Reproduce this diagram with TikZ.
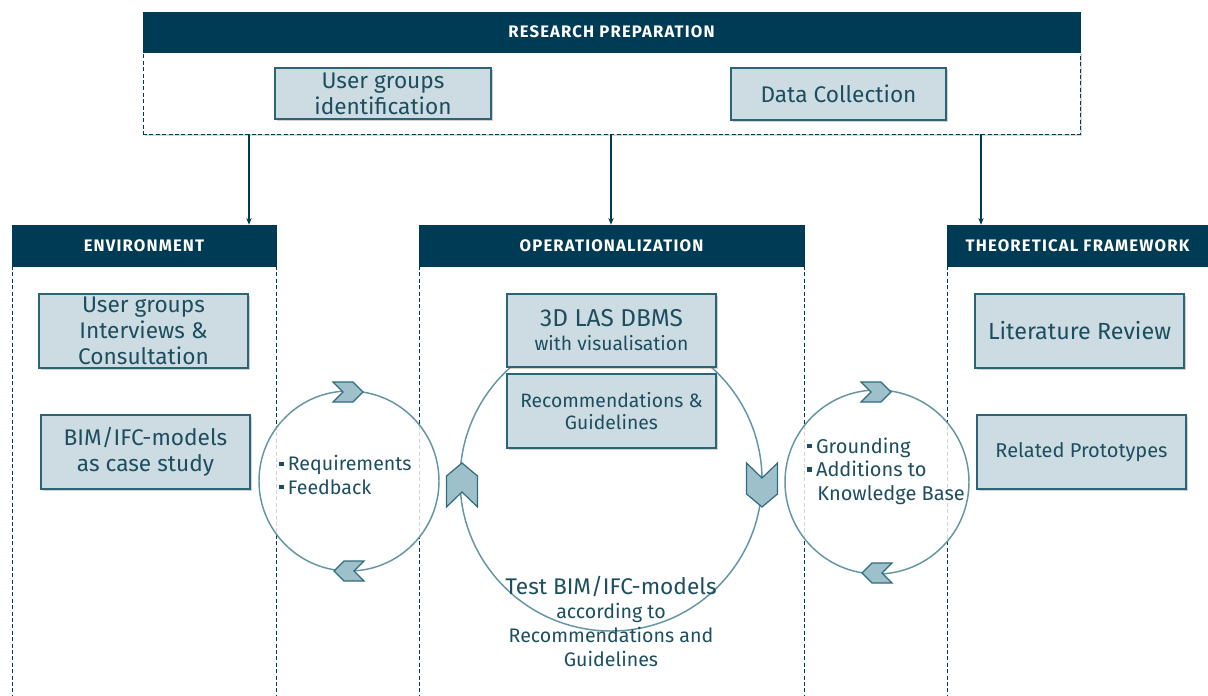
\documentclass[tikz,border=0pt]{standalone}
\usepackage{fontspec}
\setmainfont{Fira Sans}
\newfontfamily\hdrfont{Fira Sans}[LetterSpace=7]
\usetikzlibrary{shadows,arrows.meta}
\definecolor{navy}{HTML}{003B55}
\definecolor{boxfill}{HTML}{CDDCE3}
\definecolor{boxline}{HTML}{2C6375}
\definecolor{txt}{HTML}{1D4E60}
\definecolor{ring}{HTML}{6495A5}
\definecolor{chevfill}{HTML}{9DC0CB}
\definecolor{chevline}{HTML}{2F6C7D}
\newcommand\mybul{\rule[0.25em]{0.22em}{0.22em}\hspace{0.22em}}
\newcommand\fz[2]{\fontsize{#1}{#2}\selectfont}
\begin{document}
\begin{tikzpicture}[x=0.75pt,y=-0.75pt,
  hdr/.style={fill=navy,draw=navy,text=white,font=\hdrfont\bfseries\fz{12.5}{14},inner sep=0pt},
  sbox/.style={fill=boxfill,draw=boxline,line width=0.9pt,text=txt,align=center,inner sep=0pt,
    minimum width=156.75pt,minimum height=55.5pt,
    drop shadow={shadow xshift=1.2pt,shadow yshift=-1.5pt,opacity=0.35}},
  col/.style={draw=navy,line width=0.6pt,dash pattern=on 3pt off 1.8pt},
  arr/.style={draw=navy,line width=0.8pt,-{Stealth[length=5pt,width=4pt]}},
  ring/.style={draw=ring,line width=1.1pt,fill=white,fill opacity=0.8},
  chev/.style={fill=chevfill,draw=chevline,line width=0.9pt,line join=miter},
  ctext/.style={text=txt,align=left,inner sep=0pt},
  chevR/.pic={\draw[chev] (-15,-10) -- (5,-10) -- (15,0) -- (5,10) -- (-15,10) -- (-5,0) -- cycle;},
  chevL/.pic={\draw[chev] (15,-10) -- (-5,-10) -- (-15,0) -- (-5,10) -- (15,10) -- (5,0) -- cycle;},
  chevU/.pic={\draw[chev] (-15.5,22) -- (-15.5,-9) -- (0,-22) -- (15.5,-9) -- (15.5,22) -- (0,7) -- cycle;},
  chevD/.pic={\draw[chev] (-15.5,-22) -- (-15.5,9) -- (0,22) -- (15.5,9) -- (15.5,-22) -- (0,-7) -- cycle;}
]
\path[use as bounding box,fill=white] (0,0) rectangle (1208,696);

% research preparation
\node[draw=navy,line width=0.6pt,dash pattern=on 3pt off 1.8pt,fill=white,minimum width=702.75pt,minimum height=61.5pt,inner sep=0pt,
  drop shadow={shadow xshift=1.2pt,shadow yshift=-1.5pt,opacity=0.3}] (rpbody) at (611.5,93) {};
\node[hdr,minimum width=702.75pt,minimum height=30pt] (rphead) at (611.5,32) {RESEARCH PREPARATION};
\node[sbox,minimum width=162pt,minimum height=38.25pt,font=\fz{17}{19.5}] (ugi) at (383,93.5) {User groups\\identification};
\node[sbox,minimum width=161.25pt,minimum height=39pt,font=\fz{17}{19.5}] (dc) at (838.5,94) {Data Collection};

% columns
\draw[col] (12,266) -- (12,696) (276,266) -- (276,696);
\draw[col] (419,266) -- (419,696) (804,266) -- (804,696);
\draw[col] (947,266) -- (947,696);
\node[hdr,minimum width=198pt,minimum height=30.75pt] (envhead) at (144,245.5) {ENVIRONMENT};
\node[hdr,minimum width=288.75pt,minimum height=30.75pt] (ophead) at (611.5,245.5) {OPERATIONALIZATION};
\node[hdr,minimum width=195.75pt,minimum height=30.75pt] (theohead) at (1077.5,245.5) {THEORETICAL FRAMEWORK};

% arrows
\coordinate (a1) at (249,134);
\coordinate (a2) at (611,134);
\coordinate (a3) at (981,134);
\draw[arr] (a1) -- (a1 |- envhead.north);
\draw[arr] (a2) -- (a2 |- ophead.north);
\draw[arr] (a3) -- (a3 |- theohead.north);

% circles
\node[ring,circle,minimum size=135pt,inner sep=0pt] (lc) at (349,481) {};
\node[ring,circle,minimum size=226.5pt,inner sep=0pt] (mc) at (611,480) {};
\node[ring,circle,minimum size=138pt,inner sep=0pt] (rc) at (877,482) {};

\pic at (348,392) {chevR};
\pic at (349,571) {chevL};
\pic at (462,485) {chevU};
\pic at (762,485) {chevD};
\pic at (876,392) {chevR};
\pic at (877,573) {chevL};

% environment boxes
\node[sbox,font=\fz{17}{19.5}] (ugic) at (143.5,331) {User groups\\Interviews \&\\Consultation};
\node[sbox,font=\fz{17}{19.5}] (bim) at (145.5,452) {BIM/IFC-models\\as case study};

% operationalization boxes
\node[sbox,minimum height=54.75pt,font=\fz{14.5}{18}] (las) at (611.5,330.5) {\fz{18.3}{18}3D LAS DBMS\\\fz{14.5}{18}with visualisation};
\node[sbox,font=\fz{14.5}{17}] (rec) at (611.5,411) {Recommendations \&\\Guidelines};

% theoretical framework boxes
\node[sbox,font=\fz{17.5}{19.5}] (lit) at (1079.5,331) {Literature Review};
\node[sbox,font=\fz{15}{18}] (rel) at (1081.5,452) {Related Prototypes};

% circle texts
\node[ctext,anchor=west,font=\fz{14.7}{17.3}] (lct) at (279,475) {\mybul Requirements\\\mybul Feedback};
\node[ctext,anchor=west,font=\fz{15}{17.5}] (rct) at (807,471) {\mybul Grounding\\\mybul Additions to\\\hspace*{0.5em}Knowledge Base};
\node[ctext,align=center,font=\fz{14.7}{18}] (mct) at (611,621) {\fz{17}{18}Test BIM/IFC-models\\\fz{14.7}{18}according to\\Recommendations and\\Guidelines};
\end{tikzpicture}
\end{document}
